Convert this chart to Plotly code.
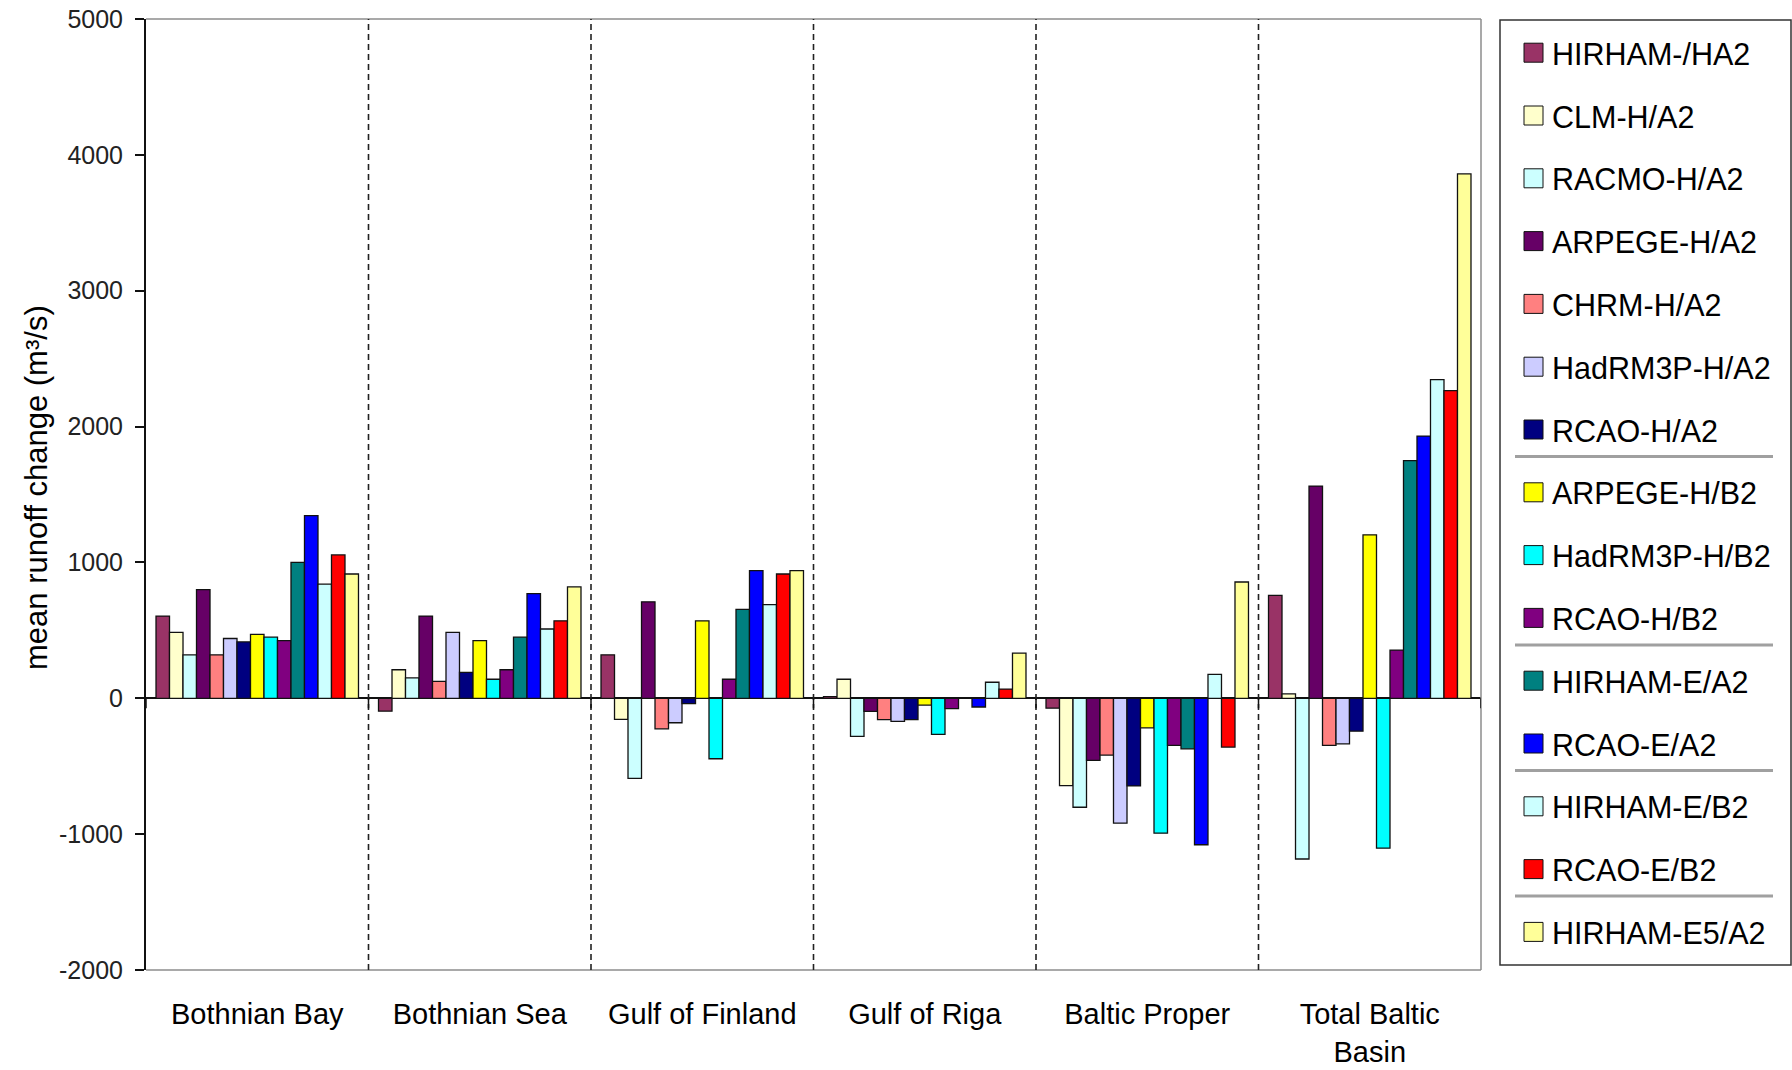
import plotly.graph_objects as go

# ---- data -----------------------------------------------------------------
regions = ["Bothnian Bay", "Bothnian Sea", "Gulf of Finland", "Gulf of Riga",
           "Baltic Proper", "Total Baltic<br>Basin"]

models = ["HIRHAM-/HA2", "CLM-H/A2", "RACMO-H/A2", "ARPEGE-H/A2", "CHRM-H/A2",
          "HadRM3P-H/A2", "RCAO-H/A2", "ARPEGE-H/B2", "HadRM3P-H/B2", "RCAO-H/B2",
          "HIRHAM-E/A2", "RCAO-E/A2", "HIRHAM-E/B2", "RCAO-E/B2", "HIRHAM-E5/A2"]

colors = ["#993366", "#FFFFCC", "#CCFFFF", "#660066", "#FF8080",
          "#CCCCFF", "#000080", "#FFFF00", "#00FFFF", "#800080",
          "#008080", "#0000FF", "#CCFFFF", "#FF0000", "#FFFF99"]

# mean runoff change (m3/s) per region, one value per model (order as above)
bothnian_bay = [605, 485, 320, 800, 320, 440, 415, 470, 450, 425, 1000, 1345, 840, 1055, 915]
bothnian_sea = [-95, 210, 150, 605, 125, 485, 190, 425, 140, 210, 450, 770, 510, 570, 820]
gulf_of_finland = [320, -155, -590, 710, -225, -180, -40, 570, -445, 140, 655, 940, 690, 915, 940]
gulf_of_riga = [12, 140, -280, -97, -157, -170, -157, -50, -265, -76, None, -64, 118, 68, 333]
baltic_proper = [-73, -643, -802, -457, -418, -919, -645, -218, -993, -347, -372, -1078, 176, -359, 856]
total_baltic = [758, 32, -1183, 1562, -347, -335, -242, 1203, -1103, 355, 1750, 1930, 2345, 2265, 3860]

region_values = [bothnian_bay, bothnian_sea, gulf_of_finland,
                 gulf_of_riga, baltic_proper, total_baltic]

y_ticks = [-2000, -1000, 0, 1000, 2000, 3000, 4000, 5000]
y_tick_text = [str(v) for v in y_ticks]

# legend groups end after these model indices (grey rule drawn below them)
legend_breaks_after = [6, 9, 11, 13]

# ---- geometry ---------------------------------------------------------------
W, H = 1792, 1070
PL, PR, PT, PB = 146, 1481, 19, 970  # plot area in pixels
FONT = "Liberation Sans, Arial, sans-serif"


def px_x(px):
    return (px - PL) / (PR - PL)


def px_y(py):
    return (PB - py) / (PB - PT)


fig = go.Figure()

for i, name in enumerate(models):
    fig.add_trace(go.Bar(
        x=regions,
        y=[vals[i] for vals in region_values],
        name=name,
        marker=dict(color=colors[i], line=dict(color="#111111", width=1.3)),
        showlegend=False,
    ))

shapes = []
# grey frame on top, right and bottom
for (x0, y0, x1, y1) in [(0, 1, 1, 1), (1, 0, 1, 1), (0, 0, 1, 0)]:
    shapes.append(dict(type="line", xref="paper", yref="paper",
                       x0=x0, y0=y0, x1=x1, y1=y1,
                       line=dict(color="#8c8c8c", width=1.5)))
# dashed separators between regions
for k in range(len(regions) - 1):
    shapes.append(dict(type="line", xref="x", yref="paper",
                       x0=k + 0.5, x1=k + 0.5, y0=0, y1=1,
                       line=dict(color="#222222", width=1.6, dash="6px,4px")))
# short category ticks hanging below the zero line
units_per_px = (y_ticks[-1] - y_ticks[0]) / (PB - PT)
for k in range(len(regions) + 1):
    shapes.append(dict(type="line", xref="x", yref="y",
                       x0=k - 0.5, x1=k - 0.5, y0=0, y1=-10 * units_per_px,
                       line=dict(color="#111111", width=1.5)))

annotations = [dict(
    text="mean runoff change (m³/s)", textangle=-90,
    xref="paper", yref="paper", x=px_x(36), y=px_y(488),
    xanchor="center", yanchor="middle", showarrow=False,
    font=dict(family=FONT, size=31, color="#000000"),
)]

# legend box
LX0, LX1, LY0, LY1 = 1500, 1791, 20, 965
shapes.append(dict(type="rect", xref="paper", yref="paper",
                   x0=px_x(LX0), x1=px_x(LX1), y0=px_y(LY1), y1=px_y(LY0),
                   line=dict(color="#333333", width=1.5), fillcolor="white"))
row0, row_step = 52.7, 62.8
for i, name in enumerate(models):
    cy = row0 + row_step * i
    shapes.append(dict(type="rect", xref="paper", yref="paper",
                       x0=px_x(1524), x1=px_x(1543),
                       y0=px_y(cy + 9.5), y1=px_y(cy - 9.5),
                       line=dict(color="#111111", width=1), fillcolor=colors[i]))
    annotations.append(dict(
        text=name, xref="paper", yref="paper", x=px_x(1550), y=px_y(cy + 1),
        xanchor="left", yanchor="middle", showarrow=False,
        font=dict(family=FONT, size=30.5, color="#000000"),
    ))
    if i in legend_breaks_after:
        ly = cy + 27
        shapes.append(dict(type="line", xref="paper", yref="paper",
                           x0=px_x(1515), x1=px_x(1773), y0=px_y(ly), y1=px_y(ly),
                           line=dict(color="#a0a0a0", width=3)))

fig.update_layout(
    width=W, height=H,
    margin=dict(l=PL, r=W - PR, t=PT, b=H - PB, autoexpand=False),
    paper_bgcolor="white", plot_bgcolor="white",
    barmode="group", bargap=0.09, bargroupgap=0,
    font=dict(family=FONT, color="#000000"),
    shapes=shapes, annotations=annotations,
    xaxis=dict(
        type="category", range=[-0.5, len(regions) - 0.5],
        showline=False, showgrid=False, ticks="",
        tickfont=dict(family=FONT, size=29, color="#000000"),
        ticklabelstandoff=24,
    ),
    yaxis=dict(
        range=[y_ticks[0], y_ticks[-1]], tickvals=y_ticks, ticktext=y_tick_text,
        showline=True, linecolor="#111111", linewidth=2,
        ticks="outside", ticklen=9, tickwidth=1.5, tickcolor="#111111",
        showgrid=False, zeroline=True, zerolinecolor="#111111", zerolinewidth=2,
        tickfont=dict(family=FONT, size=25, color="#222222"),
        ticklabelstandoff=7,
    ),
)

fig.write_html("out.html")
